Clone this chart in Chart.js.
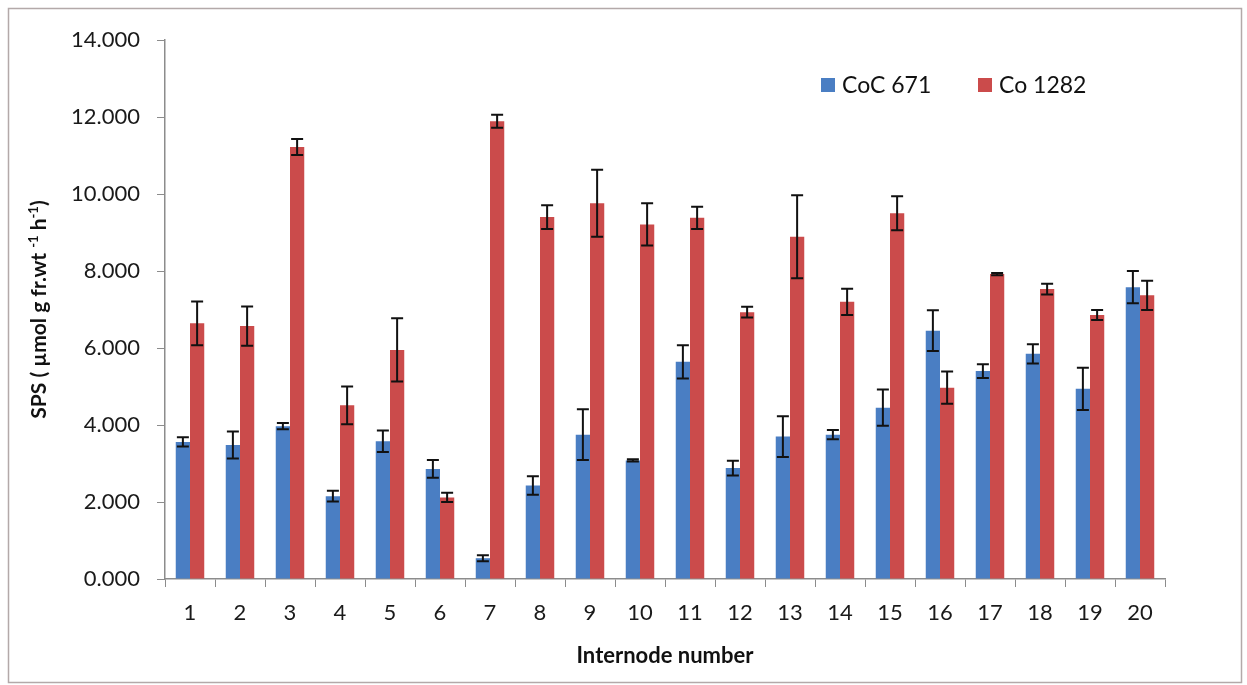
<!DOCTYPE html>
<html>
<head>
<meta charset="utf-8">
<title>SPS activity by internode</title>
<script src="https://cdn.jsdelivr.net/npm/chart.js@4/dist/chart.umd.min.js"></script>
<style>
  html, body { margin: 0; padding: 0; background: #ffffff; }
  #wrap { width: 1247px; height: 685px; position: relative; }
</style>
</head>
<body>
<div id="wrap"><canvas id="c" width="1247" height="685"></canvas></div>
<script>
// Internode positions along the stalk
const internodes = ['1','2','3','4','5','6','7','8','9','10','11','12','13','14','15','16','17','18','19','20'];

// CoC 671 — mean SPS activity and standard error
const cocLabel = 'CoC 671';
const cocValues = [3.56, 3.48, 3.97, 2.15, 3.58, 2.86, 0.54, 2.43, 3.75, 3.08, 5.64, 2.88, 3.70, 3.75, 4.45, 6.45, 5.40, 5.85, 4.94, 7.58];
const cocErrors = [0.12, 0.35, 0.08, 0.14, 0.28, 0.23, 0.08, 0.24, 0.66, 0.03, 0.43, 0.19, 0.53, 0.12, 0.47, 0.53, 0.18, 0.25, 0.55, 0.42];

// Co 1282 — mean SPS activity and standard error
const coLabel = 'Co 1282';
const coValues = [6.64, 6.57, 11.22, 4.51, 5.95, 2.12, 11.89, 9.40, 9.76, 9.21, 9.38, 6.93, 8.89, 7.20, 9.50, 4.97, 7.92, 7.53, 6.86, 7.37];
const coErrors = [0.57, 0.51, 0.21, 0.49, 0.82, 0.12, 0.17, 0.31, 0.87, 0.55, 0.29, 0.14, 1.08, 0.34, 0.44, 0.42, 0.03, 0.14, 0.13, 0.38];

// Value axis ticks
const yTicks = [0, 2, 4, 6, 8, 10, 12, 14];

const BLUE = '#4a7ec3';
const RED = '#cb4b4b';
const AXIS = '#8c8c8c';
const FONT = 'Lato, "Open Sans", "DejaVu Sans", sans-serif';

Chart.defaults.font.family = FONT;
Chart.defaults.color = '#1a1a1a';

// White page with a thin frame around the figure
const framePlugin = {
  id: 'frame',
  beforeDraw(chart) {
    const ctx = chart.ctx;
    ctx.save();
    ctx.fillStyle = '#ffffff';
    ctx.fillRect(0, 0, chart.width, chart.height);
    ctx.strokeStyle = '#b3a9a9';
    ctx.lineWidth = 1.5;
    ctx.strokeRect(8.5, 8.5, 1233, 674);
    ctx.restore();
  }
};

// Error bars drawn on top of each bar from the error arrays
const errorBarPlugin = {
  id: 'errorBars',
  afterDatasetsDraw(chart) {
    const ctx = chart.ctx;
    const y = chart.scales.y;
    ctx.save();
    ctx.strokeStyle = '#111111';
    ctx.lineWidth = 2;
    chart.data.datasets.forEach((ds, i) => {
      const meta = chart.getDatasetMeta(i);
      meta.data.forEach((bar, j) => {
        const v = ds.data[j];
        const e = ds.errors[j];
        const x = bar.x;
        const top = y.getPixelForValue(v + e);
        const bot = y.getPixelForValue(v - e);
        const cap = 6;
        ctx.beginPath();
        ctx.moveTo(x, top); ctx.lineTo(x, bot);
        ctx.moveTo(x - cap, top); ctx.lineTo(x + cap, top);
        ctx.moveTo(x - cap, bot); ctx.lineTo(x + cap, bot);
        ctx.stroke();
      });
    });
    ctx.restore();
  }
};

// Legend inside the plot, upper right
const legendPlugin = {
  id: 'insideLegend',
  afterDraw(chart) {
    const ctx = chart.ctx;
    const items = [
      { x: 821, ds: chart.data.datasets[0] },
      { x: 978, ds: chart.data.datasets[1] }
    ];
    ctx.save();
    ctx.font = '23px ' + FONT;
    ctx.textBaseline = 'middle';
    items.forEach(it => {
      ctx.fillStyle = it.ds.backgroundColor;
      ctx.fillRect(it.x, 78, 14, 14);
      ctx.fillStyle = '#111111';
      ctx.fillText(it.ds.label, it.x + 21, 86);
    });
    ctx.restore();
  }
};

// Axis titles, with superscripts in the unit of the value axis
const axisTitlePlugin = {
  id: 'axisTitles',
  afterDraw(chart) {
    const ctx = chart.ctx;
    const area = chart.chartArea;
    ctx.save();
    ctx.fillStyle = '#111111';

    // category axis title
    ctx.font = 'bold 22px ' + FONT;
    ctx.textAlign = 'center';
    ctx.textBaseline = 'middle';
    ctx.fillText('Internode number', (area.left + area.right) / 2, 656);

    // value axis title
    const parts = [
      { t: 'SPS ( µmol g fr.wt ', sup: false },
      { t: '-1', sup: true },
      { t: ' h', sup: false },
      { t: '-1', sup: true },
      { t: ')', sup: false }
    ];
    const big = 'bold 21px ' + FONT;
    const small = 'bold 13px ' + FONT;
    let total = 0;
    parts.forEach(p => { ctx.font = p.sup ? small : big; p.w = ctx.measureText(p.t).width; total += p.w; });
    ctx.translate(39, (area.top + area.bottom) / 2);
    ctx.rotate(-Math.PI / 2);
    ctx.textAlign = 'left';
    ctx.textBaseline = 'alphabetic';
    let cx = -total / 2;
    parts.forEach(p => {
      ctx.font = p.sup ? small : big;
      ctx.fillText(p.t, cx, p.sup ? -1 : 7);
      cx += p.w;
    });
    ctx.restore();
  }
};

new Chart(document.getElementById('c'), {
  type: 'bar',
  data: {
    labels: internodes,
    datasets: [
      { label: cocLabel, data: cocValues, errors: cocErrors, backgroundColor: BLUE, borderWidth: 0 },
      { label: coLabel, data: coValues, errors: coErrors, backgroundColor: RED, borderWidth: 0 }
    ]
  },
  options: {
    responsive: false,
    animation: false,
    events: [],
    layout: { padding: { left: 0, top: 40, right: 82, bottom: 0 } },
    datasets: { bar: { categoryPercentage: 0.57, barPercentage: 1.0 } },
    plugins: { legend: { display: false }, tooltip: { enabled: false } },
    scales: {
      x: {
        offset: true,
        grid: { display: true, drawOnChartArea: false, drawTicks: true, tickLength: 8, color: AXIS, offset: true },
        border: { display: true, color: AXIS, width: 1.5 },
        ticks: { font: { size: 22 }, color: '#1a1a1a', padding: 13, maxRotation: 0 },
        afterFit(scale) { scale.height = 106; }
      },
      y: {
        min: yTicks[0],
        max: yTicks[yTicks.length - 1],
        afterBuildTicks(scale) { scale.ticks = yTicks.map(v => ({ value: v })); },
        grid: { display: true, drawOnChartArea: false, drawTicks: true, tickLength: 8, color: AXIS },
        border: { display: true, color: AXIS, width: 1.5 },
        ticks: { font: { size: 22 }, color: '#1a1a1a', padding: 17, callback: v => Number(v).toFixed(3) },
        afterFit(scale) { scale.width = 165; }
      }
    }
  },
  plugins: [framePlugin, errorBarPlugin, legendPlugin, axisTitlePlugin]
});
</script>
</body>
</html>
